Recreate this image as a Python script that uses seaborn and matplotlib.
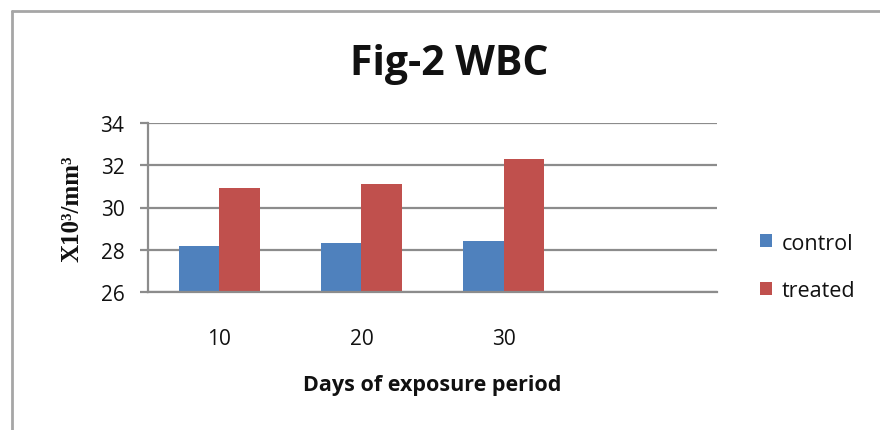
import matplotlib
matplotlib.use("Agg")
import matplotlib.pyplot as plt
import seaborn as sns
import pandas as pd
from matplotlib.patches import Patch
from matplotlib.lines import Line2D

days = ["10", "20", "30"]
control = [28.2, 28.3, 28.4]
treated = [30.9, 31.1, 32.3]
series_names = ["control", "treated"]
colors = ["#4F81BD", "#C0504D"]
y_ticks = [26, 28, 30, 32, 34]

df = pd.DataFrame({
    "day": days * 2,
    "value": control + treated,
    "group": [series_names[0]] * len(days) + [series_names[1]] * len(days),
})

sns.set_theme(style="white")
plt.rcParams["font.family"] = ["Open Sans", "DejaVu Sans"]

fig = plt.figure(figsize=(8.8, 4.31), dpi=100)
ax = fig.add_axes([148/880, 1-293/431, (717-148)/880, (293-124)/431])

order = days + [" "]
sns.barplot(data=df, x="day", y="value", hue="group", order=order,
            hue_order=series_names, palette=colors, width=0.57,
            saturation=1, ax=ax, legend=False, linewidth=0)

ax.set_ylim(26, 34)
ax.set_yticks(y_ticks)
ax.set_xlim(-0.5, 3.5)
ax.yaxis.grid(True, color="#8c8c8c", linewidth=1.6)
ax.set_axisbelow(True)
for s in ["top", "right"]:
    ax.spines[s].set_visible(False)
ax.spines["left"].set_color("#8c8c8c")
ax.spines["left"].set_linewidth(1.6)
ax.spines["bottom"].set_color("#8c8c8c")
ax.spines["bottom"].set_linewidth(1.6)
ax.tick_params(axis="y", left=True, length=6, width=1.6, color="#8c8c8c",
               pad=11, labelsize=15, labelcolor="#111111")
ax.tick_params(axis="x", bottom=False, pad=20, labelsize=15, labelcolor="#111111")
ax.set_xlabel("Days of exposure period", fontsize=15.5, fontweight="bold",
              labelpad=18, color="#111111")
ax.set_ylabel("X10³/mm³", fontsize=18, fontweight="bold",
              family=["Liberation Serif", "DejaVu Serif"], labelpad=12, color="#111111")

fig.text(449/880, 1-65/431, "Fig-2 WBC", ha="center", va="center",
         fontsize=29.5, fontweight="bold", color="#111111")

handles = [Patch(facecolor=c, edgecolor="none") for c in colors]
fig.legend(handles, series_names, loc="center left",
           bbox_to_anchor=(741/880, 1-268/431), frameon=False, fontsize=15.5,
           handlelength=0.55, handleheight=0.55, handletextpad=0.45,
           labelspacing=1.25, labelcolor="#111111")

border_color = "#a6a6a6"
fig.add_artist(Line2D([12/880, 12/880], [0, 1-12/431], color=border_color,
                      linewidth=2, transform=fig.transFigure))
fig.add_artist(Line2D([12/880, 1], [1-12/431, 1-12/431], color=border_color,
                      linewidth=2, transform=fig.transFigure))

fig.savefig("out.png", dpi=100)
